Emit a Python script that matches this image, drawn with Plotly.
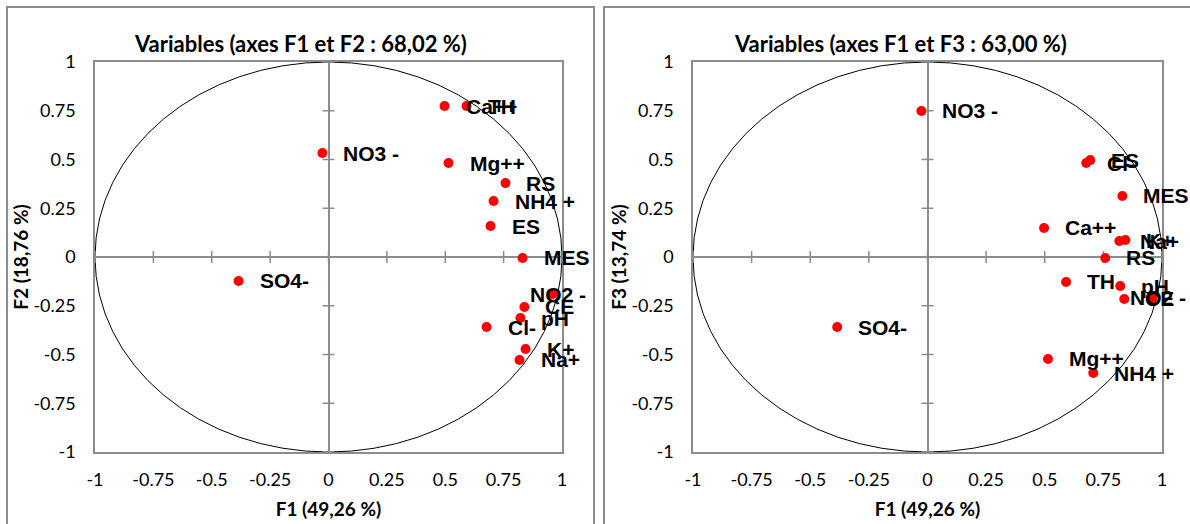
import plotly.graph_objects as go

# ---------------- data ----------------
VARIABLES = ["Ca++", "TH", "NO3 -", "Mg++", "RS", "NH4 +", "ES", "MES",
             "NO2 -", "CE", "pH", "Cl-", "K+", "Na+", "SO4-"]
F1 = [0.497, 0.591, -0.026, 0.514, 0.758, 0.707, 0.694, 0.831,
      0.959, 0.839, 0.822, 0.677, 0.844, 0.818, -0.385]
F2 = [0.774, 0.774, 0.533, 0.482, 0.379, 0.287, 0.159, -0.005,
      -0.190, -0.256, -0.313, -0.359, -0.472, -0.528, -0.123]
F3 = [0.149, -0.128, 0.749, -0.523, -0.005, -0.595, 0.497, 0.313,
      -0.210, -0.215, -0.149, 0.482, 0.087, 0.082, -0.359]

TICK_VALUES = [-1, -0.75, -0.5, -0.25, 0, 0.25, 0.5, 0.75, 1]
TICK_LABELS = ["-1", "-0.75", "-0.5", "-0.25", "0", "0.25", "0.5", "0.75", "1"]

TITLE_LEFT = "Variables (axes F1 et F2 : 68,02 %)"
TITLE_RIGHT = "Variables (axes F1 et F3 : 63,00 %)"
XTITLE = "F1 (49,26 %)"
YTITLE_LEFT = "F2 (18,76 %)"
YTITLE_RIGHT = "F3 (13,74 %)"

# label placement tweaks (style only)
LABEL_ANCHOR = {"NO2 -": ("center", 6)}

# ---------------- style ----------------
W, H = 1190, 524
GRAY = "#8c8c8c"
TICK_FONT = dict(family="Lato", size=18, color="black")
LABEL_FONT = dict(family="Liberation Sans", size=21, color="black")
AXTITLE_FONT = dict(family="Lato", size=19, color="black")

fig = go.Figure()

panels = [("x", "y", F2), ("x2", "y2", F3)]
for xr, yr, yvals in panels:
    fig.add_trace(go.Scatter(
        x=F1, y=yvals, mode="markers", xaxis=xr, yaxis=yr,
        marker=dict(color="#ff0000", size=10, line=dict(width=0)),
        showlegend=False, cliponaxis=False, hoverinfo="skip"))
    # correlation circle
    fig.add_shape(type="circle", xref=xr, yref=yr, x0=-1, y0=-1, x1=1, y1=1,
                  line=dict(color="black", width=1), layer="below")
    # crossing tick marks on zero lines
    for t in TICK_VALUES:
        fig.add_shape(type="line", xref=xr, yref=yr, x0=t, x1=t,
                      ysizemode="pixel", yanchor=0, y0=-6, y1=6,
                      line=dict(color=GRAY, width=1.5), layer="below")
        fig.add_shape(type="line", xref=xr, yref=yr, y0=t, y1=t,
                      xsizemode="pixel", xanchor=0, x0=-6, x1=6,
                      line=dict(color=GRAY, width=1.5), layer="below")
    # point labels
    for name, xv, yv in zip(VARIABLES, F1, yvals):
        anchor, shift = LABEL_ANCHOR.get(name, ("left", 19))
        fig.add_annotation(x=xv, y=yv, xref=xr, yref=yr, text="<b>%s</b>" % name,
                           showarrow=False, xanchor=anchor, yanchor="middle",
                           xshift=shift, font=LABEL_FONT)

x_dom = [[95 / W, 562 / W], [693 / W, 1162 / W]]
y_dom = [(H - 452) / H, (H - 62) / H]

axis_common = dict(range=[-1, 1], tickvals=TICK_VALUES, ticktext=TICK_LABELS,
                   showgrid=False, zeroline=True, zerolinecolor=GRAY, zerolinewidth=1.5,
                   showline=True, linecolor=GRAY, linewidth=1.5, mirror=True,
                   ticks="outside", tickcolor="rgba(0,0,0,0)", tickfont=TICK_FONT,
                   fixedrange=True, automargin=False)

fig.update_layout(
    width=W, height=H, margin=dict(l=0, r=0, t=0, b=0),
    paper_bgcolor="white", plot_bgcolor="white",
    xaxis=dict(domain=x_dom[0], anchor="y", ticklen=11, **axis_common,
               title=dict(text="<b>%s</b>" % XTITLE, standoff=13, font=AXTITLE_FONT)),
    yaxis=dict(domain=y_dom, anchor="x", ticklen=14, **axis_common,
               title=dict(text="<b>%s</b>" % YTITLE_LEFT, standoff=0, font=AXTITLE_FONT)),
    xaxis2=dict(domain=x_dom[1], anchor="y2", ticklen=11, **axis_common,
                title=dict(text="<b>%s</b>" % XTITLE, standoff=13, font=AXTITLE_FONT)),
    yaxis2=dict(domain=y_dom, anchor="x2", ticklen=14, **axis_common,
                title=dict(text="<b>%s</b>" % YTITLE_RIGHT, standoff=0, font=AXTITLE_FONT)),
)

# chart frames
fig.add_shape(type="rect", xref="paper", yref="paper", x0=7 / W, x1=594 / W,
              y0=-0.2, y1=(H - 7) / H, line=dict(color=GRAY, width=2), layer="below")
fig.add_shape(type="rect", xref="paper", yref="paper", x0=604 / W, x1=1.2,
              y0=-0.2, y1=(H - 7) / H, line=dict(color=GRAY, width=2), layer="below")

# chart titles
for txt, cx in [(TITLE_LEFT, 300 / W), (TITLE_RIGHT, 900 / W)]:
    fig.add_annotation(x=cx, y=(H - 43) / H, xref="paper", yref="paper",
                       text="<b>%s</b>" % txt, showarrow=False,
                       xanchor="center", yanchor="middle",
                       font=dict(family="Lato", size=22, color="black"))

fig.write_html("out.html")
